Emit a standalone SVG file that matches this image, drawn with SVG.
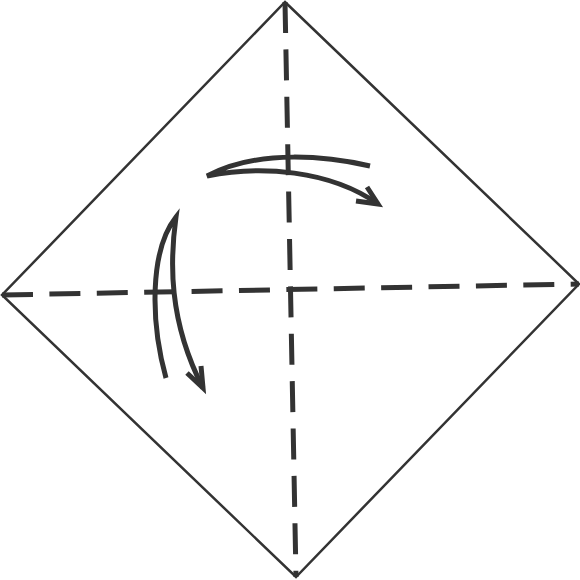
<svg xmlns="http://www.w3.org/2000/svg" width="580" height="580" viewBox="0 0 580 580">
  <style>
    .edge { fill: none; stroke: #333333; stroke-width: 2.5; stroke-linejoin: miter; }
    .valley { fill: none; stroke: #333333; stroke-width: 5; stroke-dasharray: 31 16.4; }
    .arrow { fill: none; stroke: #333333; stroke-width: 5; stroke-linecap: butt; stroke-linejoin: miter; }
  </style>
  <rect width="580" height="580" fill="#ffffff"/>
  <g id="paper">
    <polygon class="edge" points="285,2 579,284 296,577 2,295"/>
  </g>
  <g id="connectors">
    <line class="valley" x1="285" y1="2" x2="296" y2="577"/>
    <line class="valley" x1="2" y1="295" x2="579" y2="284"/>
  </g>
  <g id="fold-arrow-right">
    <path class="arrow" d="M370,166 C330,157 260,148 207,176 C260,165 330,170 378,204"/>
    <path class="arrow" d="M367,187 L378,204 L356,201"/>
  </g>
  <g id="fold-arrow-down">
    <path class="arrow" d="M166,378 C150,320 150,250 176,217 C170,260 168,320 203,388"/>
    <path class="arrow" d="M201,366 L203,388 L187,373"/>
  </g>
</svg>
